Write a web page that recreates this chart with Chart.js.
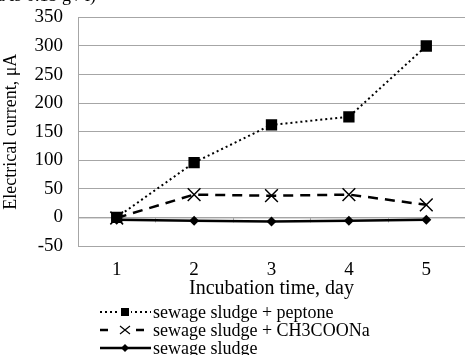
<!DOCTYPE html>
<html>
<head>
<meta charset="utf-8">
<script src="https://cdn.jsdelivr.net/npm/chart.js@4/dist/chart.umd.min.js"></script>
<style>
body{margin:0;background:#fff;width:465px;height:355px;overflow:hidden;position:relative;}
#note{position:absolute;left:-3px;top:-15px;font-family:'Liberation Serif','Times New Roman',serif;font-size:18px;color:#000;white-space:nowrap;}
#wrap{position:absolute;left:0;top:-9px;width:465px;height:310px;}
#legend{position:absolute;left:100px;top:303px;font-family:'Liberation Serif','Times New Roman',serif;font-size:18px;line-height:18px;color:#000;}
.row{display:flex;align-items:center;height:18px;white-space:nowrap;}
.row canvas{display:block;margin-right:2px;}
</style>
</head>
<body>
<div id="wrap"><canvas id="chart"></canvas></div>
<div id="note">a is 0.15 g / l)</div>
<div id="legend"></div>
<script>
const days=['1','2','3','4','5'];
const peptone=[0,96,162,176,300];
const acetate=[-1,40,38,40,22];
const sludge=[-4,-6,-7,-6,-4];
const seriesNames=['sewage sludge + peptone','sewage sludge + CH3COONa','sewage sludge'];
const yTicks=[-50,0,50,100,150,200,250,300,350];

const serif='"Liberation Serif","Times New Roman",serif';

// x axis ticks at the zero line (Excel style)
const zeroAxis={
  id:'zeroAxis',
  beforeDatasetsDraw(chart){
    const {ctx,scales:{x,y}}=chart;
    const y0=y.getPixelForValue(0);
    ctx.save();
    ctx.strokeStyle='#a6a6a6';ctx.lineWidth=1;
    ctx.beginPath();
    ctx.moveTo(x.left,y0+0.5);ctx.lineTo(x.right,y0+0.5);
    for(let i=0;i<=days.length;i++){
      const px=Math.round(x.left+i*(x.right-x.left)/days.length)+0.5;
      ctx.moveTo(px,y0);ctx.lineTo(px,y0+5);
    }
    ctx.stroke();
    ctx.restore();
  }
};

new Chart(document.getElementById('chart'),{
  type:'line',
  data:{labels:days,datasets:[
    {label:seriesNames[0],data:peptone,borderColor:'#000',backgroundColor:'#000',borderWidth:2,borderDash:[2,3],pointStyle:'rect',pointRadius:8,pointBorderWidth:0,tension:0},
    {label:seriesNames[1],data:acetate,borderColor:'#000',backgroundColor:'#000',borderWidth:2.5,borderDash:[10,7],pointStyle:'crossRot',pointRadius:9,pointBorderWidth:1.5,tension:0},
    {label:seriesNames[2],data:sludge,borderColor:'#000',backgroundColor:'#000',borderWidth:2.5,pointStyle:'rectRot',pointRadius:5,pointBorderWidth:0,tension:0}
  ]},
  options:{
    responsive:true,maintainAspectRatio:false,animation:false,
    layout:{autoPadding:false,padding:{top:0,right:0,bottom:0,left:0}},
    plugins:{legend:{display:false},tooltip:{enabled:false}},
    scales:{
      x:{
        offset:true,
        grid:{display:false,drawTicks:false},
        border:{display:false},
        ticks:{color:'#000',font:{family:serif,size:19},padding:13},
        title:{display:true,text:'Incubation time, day',color:'#000',font:{family:serif,size:20},padding:{top:0,bottom:0}},
        afterFit(s){s.height=55;}
      },
      y:{
        min:-50,max:350,
        afterBuildTicks(s){s.ticks=yTicks.map(v=>({value:v}));},
        grid:{color:'#a6a6a6',lineWidth:1,drawTicks:false},
        border:{display:true,color:'#a6a6a6'},
        ticks:{color:'#000',font:{family:serif,size:19},padding:15},
        title:{display:true,text:'Electrical current, μA',color:'#000',font:{family:serif,size:18},padding:{top:0,bottom:0}},
        afterFit(s){s.width=78;}
      }
    }
  },
  plugins:[zeroAxis]
});

// legend with small line samples
const legend=document.getElementById('legend');
const styles=[
  {dash:[2,3],width:2,marker:'square'},
  {dash:[8,10],width:2.5,marker:'x'},
  {dash:[],width:2.5,marker:'diamond'}
];
seriesNames.forEach((name,i)=>{
  const row=document.createElement('div');row.className='row';
  const c=document.createElement('canvas');c.width=51;c.height=18;
  const g=c.getContext('2d');const st=styles[i];const cx=25,cy=9;
  g.strokeStyle='#000';g.fillStyle='#000';g.lineWidth=st.width;g.setLineDash(st.dash);
  g.beginPath();g.moveTo(0,cy);g.lineTo(51,cy);g.stroke();g.setLineDash([]);
  if(st.marker==='square'){g.clearRect(cx-6,0,12,18);g.fillRect(cx-4,cy-4,8,8);}
  if(st.marker==='x'){g.clearRect(cx-9,0,18,18);g.lineWidth=1.2;g.beginPath();g.moveTo(cx-5,cy-4);g.lineTo(cx+5,cy+4);g.moveTo(cx-5,cy+4);g.lineTo(cx+5,cy-4);g.stroke();}
  if(st.marker==='diamond'){g.beginPath();g.moveTo(cx,cy-4);g.lineTo(cx+4,cy);g.lineTo(cx,cy+4);g.lineTo(cx-4,cy);g.closePath();g.fill();}
  const t=document.createElement('span');t.textContent=name;
  row.appendChild(c);row.appendChild(t);legend.appendChild(row);
});
</script>
</body>
</html>
